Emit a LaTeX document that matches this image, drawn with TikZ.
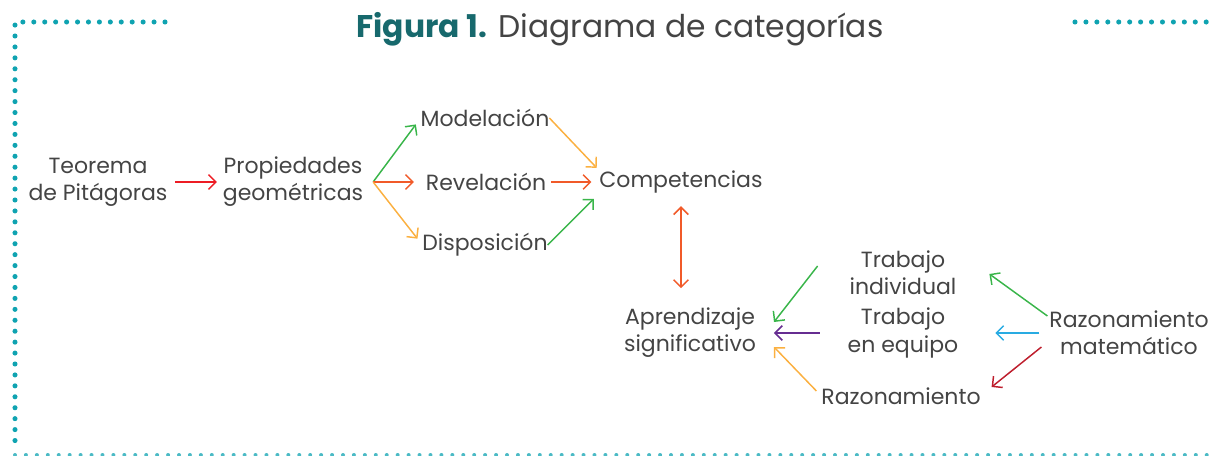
\documentclass[tikz,border=0pt]{standalone}
\usepackage{fontspec}
\setmainfont{Poppins}
\usetikzlibrary{arrows.meta}
\definecolor{dotteal}{HTML}{0FA3B1}
\definecolor{titleteal}{HTML}{17696D}
\definecolor{txtgray}{HTML}{444444}
\definecolor{cred}{HTML}{ED1C24}
\definecolor{cvermil}{HTML}{F15A29}
\definecolor{cgreen}{HTML}{39B54A}
\definecolor{camber}{HTML}{FBB040}
\definecolor{cpurple}{HTML}{662D91}
\definecolor{cblue}{HTML}{29ABE2}
\definecolor{cdarkred}{HTML}{BE1E2D}

\begin{document}
\begin{tikzpicture}[x=0.75pt,y=-0.75pt,
  lbl/.style={inner sep=0pt,outer sep=0pt,align=center,text=txtgray,font=\fontsize{16.5}{20.3}\selectfont},
  arr/.style={line width=1.1pt,-{Straight Barb[length=5.5pt,width=11pt]}},
  dots/.style={line width=3.8pt,line cap=round,dash pattern=on 0pt off 8.2pt,color=dotteal}]
	\useasboundingbox (0,0) rectangle (1214,456);
	% frame
	\draw [dots] (165,22) -- (15,22) -- (15,448);
	\draw [dots] (1075,22) -- (1212,22);
	\draw [dots,line width=3pt,color=dotteal!75] (15,455) -- (1220,455);
	\node (title) at (620,29) {\fontsize{23.5}{28}\selectfont\textcolor{titleteal}{\bfseries Figura 1.} \textcolor{txtgray}{Diagrama de categorías}};
	% nodes
	\node [lbl] (teo) at (98,182) {Teorema\\de Pitágoras};
	\node [lbl] (prop) at (293,182) {Propiedades\\geométricas};
	\node [lbl] (mod) at (485,118) {Modelación};
	\node [lbl] (rev) at (486,182) {Revelación};
	\node [lbl] (disp) at (485,245) {Disposición};
	\node [lbl] (comp) at (681,182) {Competencias};
	\node [lbl] (apr) at (690,333) {Aprendizaje\\significativo};
	\node [lbl] (tind) at (903,273) {Trabajo\\individual};
	\node [lbl] (teq) at (903,333) {Trabajo\\en equipo};
	\node [lbl] (raz) at (901,396) {Razonamiento};
	\node [lbl] (rmat) at (1129,333) {Razonamiento\\matemático};
	\coordinate (fan) at ([xshift=7.5pt]prop.east);
	% arrows
	\draw [arr,cred,shorten <=6pt,shorten >=4.5pt] (teo.east) -- (prop.west);
	\draw [arr,cgreen,shorten >=6pt] (fan) -- (mod.west);
	\draw [arr,cvermil,shorten >=9pt] (fan) -- (rev.west);
	\draw [arr,camber,shorten >=6pt] (fan) -- (disp.west);
	\draw [arr,camber,shorten >=3pt] (mod.east) -- (comp.north west);
	\draw [arr,cvermil,shorten <=3.75pt,shorten >=6pt] (rev.east) -- (comp.west);
	\draw [arr,cgreen,shorten >=6pt] (disp.east) -- (comp.south west);
	\draw [cvermil,line width=1.1pt,{Straight Barb[length=5.5pt,width=11pt]}-{Straight Barb[length=5.5pt,width=11pt]},shorten <=9.75pt,shorten >=15pt] (comp.south) -- (comp.south |- apr.north);
	\draw [arr,cgreen] ([shift={(-32,-7)}]tind.west) -- ([shift={(18,-11)}]apr.east);
	\draw [arr,cpurple,shorten <=21pt,shorten >=13.5pt] (teq.west) -- (apr.east);
	\draw [arr,camber] ([shift={(-5,-5)}]raz.west) -- ([shift={(18,14)}]apr.east);
	\draw [arr,cgreen] ([shift={(-2,5)}]rmat.north west) -- ([shift={(33,1)}]tind.east);
	\draw [arr,cblue,shorten <=7.5pt,shorten >=27.75pt] (rmat.west) -- (teq.east);
	\draw [arr,cdarkred] ([shift={(-8,14)}]rmat.west) -- ([shift={(11,-9)}]raz.east);
\end{tikzpicture}
\end{document}
